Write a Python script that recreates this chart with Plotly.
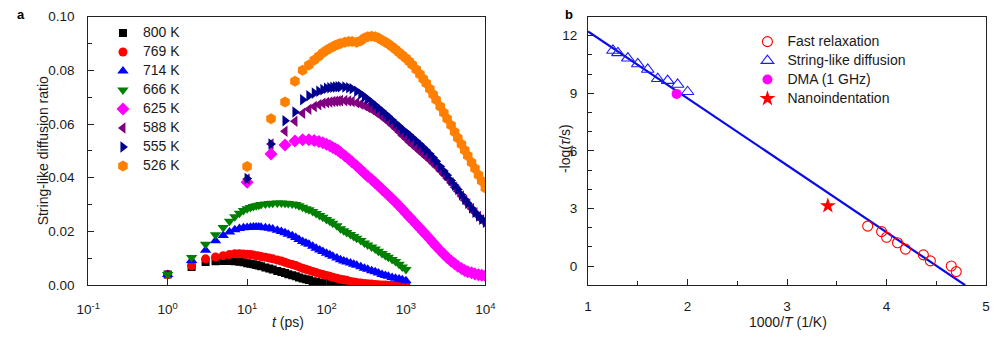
import plotly.graph_objects as go

FONT = "Liberation Sans, Arial, Helvetica, sans-serif"
TXT = "#1a1a1a"

# ---------- panel a: string-like diffusion ratio vs time ----------
# sampling times (ps) for the hotter runs (800-666 K) and the cooler runs (625-526 K)
t_hot = [1, 2, 3, 4, 5, 6, 7, 8, 9, 10,
         11, 12, 13, 14, 15, 17, 19, 21, 24, 27,
         30, 33, 37, 41, 45, 50, 55, 60, 67, 74,
         82, 90, 100, 110, 120, 135, 150, 165, 180, 200,
         220, 240, 270, 300, 330, 370, 410, 450, 500, 550,
         600, 670, 740, 820, 900, 1000]
t_cool = [10, 20, 30, 40, 50, 60, 70, 80, 90, 100,
          110, 120, 130, 140, 150, 170, 190, 210, 240, 270,
          300, 330, 370, 410, 450, 500, 550, 600, 670, 740,
          820, 900, 1000, 1100, 1200, 1350, 1500, 1650, 1800, 2000,
          2200, 2400, 2700, 3000, 3300, 3700, 4100, 4500, 5000, 5500,
          6000, 6700, 7400, 8200, 9000, 10000]

ratio_800K = [0.0040, 0.0068, 0.0086, 0.0089, 0.0090, 0.0090, 0.0089, 0.0087, 0.0085, 0.0082,
              0.0080, 0.0078, 0.0075, 0.0073, 0.0071, 0.0066, 0.0062, 0.0058, 0.0053, 0.0049,
              0.0045, 0.0041, 0.0037, 0.0033, 0.0029, 0.0025, 0.0022, 0.0019, 0.0015, 0.0012,
              0.0009, 0.0007, 0.0005, 0.0004, 0.0003, 0.0002, 0.0001, 0.0001, 0.0, 0.0,
              0.0, 0.0, 0.0, 0.0, 0.0, 0.0, 0.0, 0.0, 0.0, 0.0,
              0.0, 0.0, 0.0, 0.0, 0.0, 0.0]
ratio_769K = [0.0040, 0.0072, 0.0098, 0.0105, 0.0110, 0.0114, 0.0117, 0.0117, 0.0116, 0.0115,
              0.0114, 0.0112, 0.0110, 0.0109, 0.0107, 0.0104, 0.0101, 0.0098, 0.0094, 0.0090,
              0.0085, 0.0081, 0.0077, 0.0073, 0.0068, 0.0063, 0.0059, 0.0056, 0.0051, 0.0047,
              0.0043, 0.0040, 0.0036, 0.0033, 0.0030, 0.0026, 0.0022, 0.0020, 0.0018, 0.0014,
              0.0012, 0.0010, 0.0008, 0.0006, 0.0005, 0.0004, 0.0003, 0.0002, 0.0001, 0.0001,
              0.0, 0.0, 0.0, 0.0, 0.0, 0.0]
ratio_714K = [0.0040, 0.0092, 0.0130, 0.0165, 0.0185, 0.0198, 0.0206, 0.0211, 0.0214, 0.0215,
              0.0216, 0.0217, 0.0217, 0.0217, 0.0216, 0.0214, 0.0212, 0.0209, 0.0205, 0.0200,
              0.0195, 0.0190, 0.0184, 0.0178, 0.0170, 0.0163, 0.0157, 0.0152, 0.0145, 0.0138,
              0.0131, 0.0125, 0.0119, 0.0113, 0.0108, 0.0101, 0.0095, 0.0090, 0.0086, 0.0083,
              0.0078, 0.0074, 0.0069, 0.0063, 0.0059, 0.0054, 0.0050, 0.0045, 0.0040, 0.0036,
              0.0033, 0.0029, 0.0026, 0.0023, 0.0020, 0.0017]
ratio_666K = [0.0040, 0.0103, 0.0152, 0.0188, 0.0215, 0.0238, 0.0255, 0.0268, 0.0278, 0.0285,
              0.0289, 0.0293, 0.0296, 0.0298, 0.0300, 0.0302, 0.0304, 0.0305, 0.0306, 0.0306,
              0.0305, 0.0304, 0.0302, 0.0300, 0.0296, 0.0290, 0.0285, 0.0281, 0.0274, 0.0267,
              0.0259, 0.0253, 0.0245, 0.0238, 0.0231, 0.0221, 0.0210, 0.0203, 0.0196, 0.0189,
              0.0181, 0.0175, 0.0166, 0.0157, 0.0150, 0.0142, 0.0135, 0.0126, 0.0118, 0.0111,
              0.0104, 0.0096, 0.0088, 0.0078, 0.0068, 0.0058]
ratio_625K = [0.0383, 0.0488, 0.0522, 0.0537, 0.0541, 0.0541, 0.0539, 0.0535, 0.0530, 0.0525,
              0.0519, 0.0513, 0.0507, 0.0501, 0.0494, 0.0482, 0.0470, 0.0459, 0.0444, 0.0430,
              0.0417, 0.0406, 0.0393, 0.0381, 0.0370, 0.0357, 0.0346, 0.0335, 0.0322, 0.0309,
              0.0296, 0.0283, 0.0268, 0.0255, 0.0243, 0.0227, 0.0212, 0.0199, 0.0187, 0.0172,
              0.0158, 0.0145, 0.0129, 0.0115, 0.0103, 0.0090, 0.0080, 0.0071, 0.0062, 0.0055,
              0.0050, 0.0046, 0.0042, 0.0039, 0.0037, 0.0035]
ratio_588K = [0.0395, 0.0526, 0.0573, 0.0610, 0.0640, 0.0655, 0.0665, 0.0672, 0.0677, 0.0680,
              0.0682, 0.0684, 0.0685, 0.0686, 0.0687, 0.0687, 0.0686, 0.0684, 0.0679, 0.0674,
              0.0669, 0.0662, 0.0654, 0.0645, 0.0637, 0.0627, 0.0617, 0.0608, 0.0595, 0.0583,
              0.0570, 0.0557, 0.0545, 0.0533, 0.0523, 0.0510, 0.0498, 0.0487, 0.0477, 0.0465,
              0.0453, 0.0442, 0.0426, 0.0412, 0.0398, 0.0381, 0.0365, 0.0350, 0.0332, 0.0316,
              0.0302, 0.0285, 0.0270, 0.0256, 0.0244, 0.0232]
ratio_555K = [0.0397, 0.0526, 0.0612, 0.0645, 0.0690, 0.0705, 0.0715, 0.0722, 0.0728, 0.0733,
              0.0735, 0.0737, 0.0738, 0.0739, 0.0739, 0.0738, 0.0735, 0.0731, 0.0722, 0.0712,
              0.0702, 0.0692, 0.0681, 0.0670, 0.0660, 0.0648, 0.0637, 0.0628, 0.0615, 0.0603,
              0.0592, 0.0580, 0.0570, 0.0560, 0.0550, 0.0537, 0.0525, 0.0513, 0.0502, 0.0488,
              0.0474, 0.0461, 0.0442, 0.0425, 0.0409, 0.0390, 0.0372, 0.0356, 0.0337, 0.0320,
              0.0305, 0.0287, 0.0272, 0.0258, 0.0246, 0.0234]
ratio_526K = [0.0442, 0.0620, 0.0682, 0.0759, 0.0800, 0.0820, 0.0838, 0.0852, 0.0865, 0.0875,
              0.0882, 0.0888, 0.0893, 0.0897, 0.0900, 0.0904, 0.0907, 0.0907, 0.0904, 0.0910,
              0.0920, 0.0925, 0.0927, 0.0925, 0.0920, 0.0912, 0.0905, 0.0898, 0.0888, 0.0877,
              0.0866, 0.0856, 0.0845, 0.0833, 0.0821, 0.0803, 0.0785, 0.0768, 0.0752, 0.0730,
              0.0710, 0.0690, 0.0665, 0.0642, 0.0620, 0.0595, 0.0570, 0.0548, 0.0525, 0.0502,
              0.0482, 0.0457, 0.0434, 0.0410, 0.0388, 0.0362]

series_a = [
    ("800 K", t_hot, ratio_800K, "square", "#000000", 8),
    ("769 K", t_hot, ratio_769K, "circle", "#ff0000", 9),
    ("714 K", t_hot, ratio_714K, "triangle-up", "#0000ff", 10),
    ("666 K", t_hot, ratio_666K, "triangle-down", "#008000", 10),
    ("625 K", t_cool, ratio_625K, "diamond", "#ff00ff", 10),
    ("588 K", t_cool, ratio_588K, "triangle-left", "#800080", 10),
    ("555 K", t_cool, ratio_555K, "triangle-right", "#000090", 10),
    ("526 K", t_cool, ratio_526K, "hexagon", "#ff8000", 11),
]

x_tick_vals = [0.1, 1, 10, 100, 1000, 10000]
x_tick_text = ["10<sup>-1</sup>", "10<sup>0</sup>", "10<sup>1</sup>", "10<sup>2</sup>",
               "10<sup>3</sup>", "10<sup>4</sup>"]

# ---------- panel b: Arrhenius plot ----------
fast_x = [3.81, 3.95, 4.00, 4.11, 4.19, 4.37, 4.44, 4.65, 4.70]
fast_y = [2.08, 1.79, 1.50, 1.21, 0.88, 0.58, 0.27, 0.00, -0.29]
string_x = [1.25, 1.30, 1.40, 1.50, 1.60, 1.70, 1.80, 1.90, 2.00]
string_y = [11.23, 11.11, 10.83, 10.53, 10.24, 9.76, 9.66, 9.46, 9.08]
dma_x = [1.89]
dma_y = [8.97]
nano_x = [3.41]
nano_y = [3.14]
fit_x = [1.0, 4.79]
fit_y = [12.23, -1.0]

fig = go.Figure()


def legend_name(s):
    # small legend font keeps the rows tight; the label itself is drawn larger
    return f'<span style="font-size:14px">{s}</span>'


for name, tx, vals, sym, col, size in series_a:
    fig.add_trace(go.Scatter(
        x=tx, y=vals, mode="markers", name=legend_name(name),
        marker=dict(symbol=sym, color=col, size=size, line=dict(width=0)),
        xaxis="x", yaxis="y", legend="legend",
    ))

fig.add_trace(go.Scatter(
    x=fit_x, y=fit_y, mode="lines", line=dict(color="#0a0ae6", width=2.2),
    showlegend=False, xaxis="x2", yaxis="y2",
))
fig.add_trace(go.Scatter(
    x=fast_x, y=fast_y, mode="markers", name=legend_name("Fast relaxation"),
    marker=dict(symbol="circle-open", color="#ff0000", size=10, line=dict(width=1.1)),
    xaxis="x2", yaxis="y2", legend="legend2",
))
fig.add_trace(go.Scatter(
    x=string_x, y=string_y, mode="markers", name=legend_name("String-like diffusion"),
    marker=dict(symbol="triangle-up-open", color="#1a1aff", size=11, line=dict(width=1.1)),
    xaxis="x2", yaxis="y2", legend="legend2",
))
fig.add_trace(go.Scatter(
    x=dma_x, y=dma_y, mode="markers", name=legend_name("DMA (1 GHz)"),
    marker=dict(symbol="circle", color="#ff00ff", size=10),
    xaxis="x2", yaxis="y2", legend="legend2",
))
fig.add_trace(go.Scatter(
    x=nano_x, y=nano_y, mode="markers", name=legend_name("Nanoindentation"),
    marker=dict(symbol="star", color="#ff0000", size=12),
    xaxis="x2", yaxis="y2", legend="legend2",
))

axis_common = dict(
    showline=True, linecolor="#222222", linewidth=1, mirror=True,
    ticks="inside", tickcolor="#222222", tickwidth=1, ticklen=6,
    showgrid=False, zeroline=False,
    tickfont=dict(family=FONT, size=13.5, color=TXT),
)

y_dom = [1 - 291 / 341, 1 - 10 / 341]


def paper_y(px):
    return 1 - px / 341


title_font = dict(family=FONT, size=14, color=TXT)

fig.update_layout(
    width=1000, height=341,
    margin=dict(l=0, r=0, t=0, b=0),
    paper_bgcolor="white", plot_bgcolor="white",
    font=dict(family=FONT, size=13.5, color=TXT),
    xaxis=dict(axis_common, type="log", domain=[0.078, 0.484], range=[-1, 4],
               tickvals=x_tick_vals, ticktext=x_tick_text, anchor="y",
               ticklabelstandoff=12),
    yaxis=dict(axis_common, domain=y_dom, range=[0, 0.1], dtick=0.02, tickformat=".2f",
               anchor="x", ticklabelstandoff=10,
               minor=dict(dtick=0.01, ticks="inside", ticklen=4, tickcolor="#222222")),
    xaxis2=dict(axis_common, domain=[0.589, 0.996], range=[1, 5], dtick=1, anchor="y2",
                ticklabelstandoff=9,
                minor=dict(dtick=0.5, ticks="inside", ticklen=4, tickcolor="#222222")),
    yaxis2=dict(axis_common, domain=y_dom, range=[-1, 13], tickvals=[0, 3, 6, 9, 12],
                anchor="x2", ticklabelstandoff=7,
                minor=dict(dtick=1, ticks="inside", ticklen=4, tickcolor="#222222")),
    legend=dict(x=0.093, y=paper_y(12), xanchor="left", yanchor="top",
                bgcolor="rgba(0,0,0,0)", borderwidth=0,
                font=dict(family=FONT, size=11.2, color=TXT)),
    legend2=dict(x=0.752, y=paper_y(21), xanchor="left", yanchor="top",
                 bgcolor="rgba(0,0,0,0)", borderwidth=0,
                 font=dict(family=FONT, size=11.2, color=TXT)),
    annotations=[
        dict(text="<b>a</b>", x=0.009, y=paper_y(8), xref="paper", yref="paper",
             xanchor="center", yanchor="middle", showarrow=False,
             font=dict(size=13, family=FONT, color="#000")),
        dict(text="<b>b</b>", x=0.570, y=paper_y(8), xref="paper", yref="paper",
             xanchor="center", yanchor="middle", showarrow=False,
             font=dict(size=13, family=FONT, color="#000")),
        dict(text="String-like diffusion ratio", textangle=-90, x=0.0317, y=paper_y(151),
             xref="paper", yref="paper", xanchor="center", yanchor="middle",
             showarrow=False, font=title_font),
        dict(text="<i>t</i> (ps)", x=0.2817, y=paper_y(330), xref="paper", yref="paper",
             xanchor="center", yanchor="middle", showarrow=False, font=title_font),
        dict(text="1000/<i>T</i> (1/K)", x=0.793, y=paper_y(330), xref="paper",
             yref="paper", xanchor="center", yanchor="middle", showarrow=False,
             font=title_font),
        dict(text="-log(<i>τ</i>/s)", textangle=-90, x=0.566, y=paper_y(148),
             xref="paper", yref="paper", xanchor="center", yanchor="middle",
             showarrow=False, font=title_font),
    ],
)

fig.write_html("out.html")
